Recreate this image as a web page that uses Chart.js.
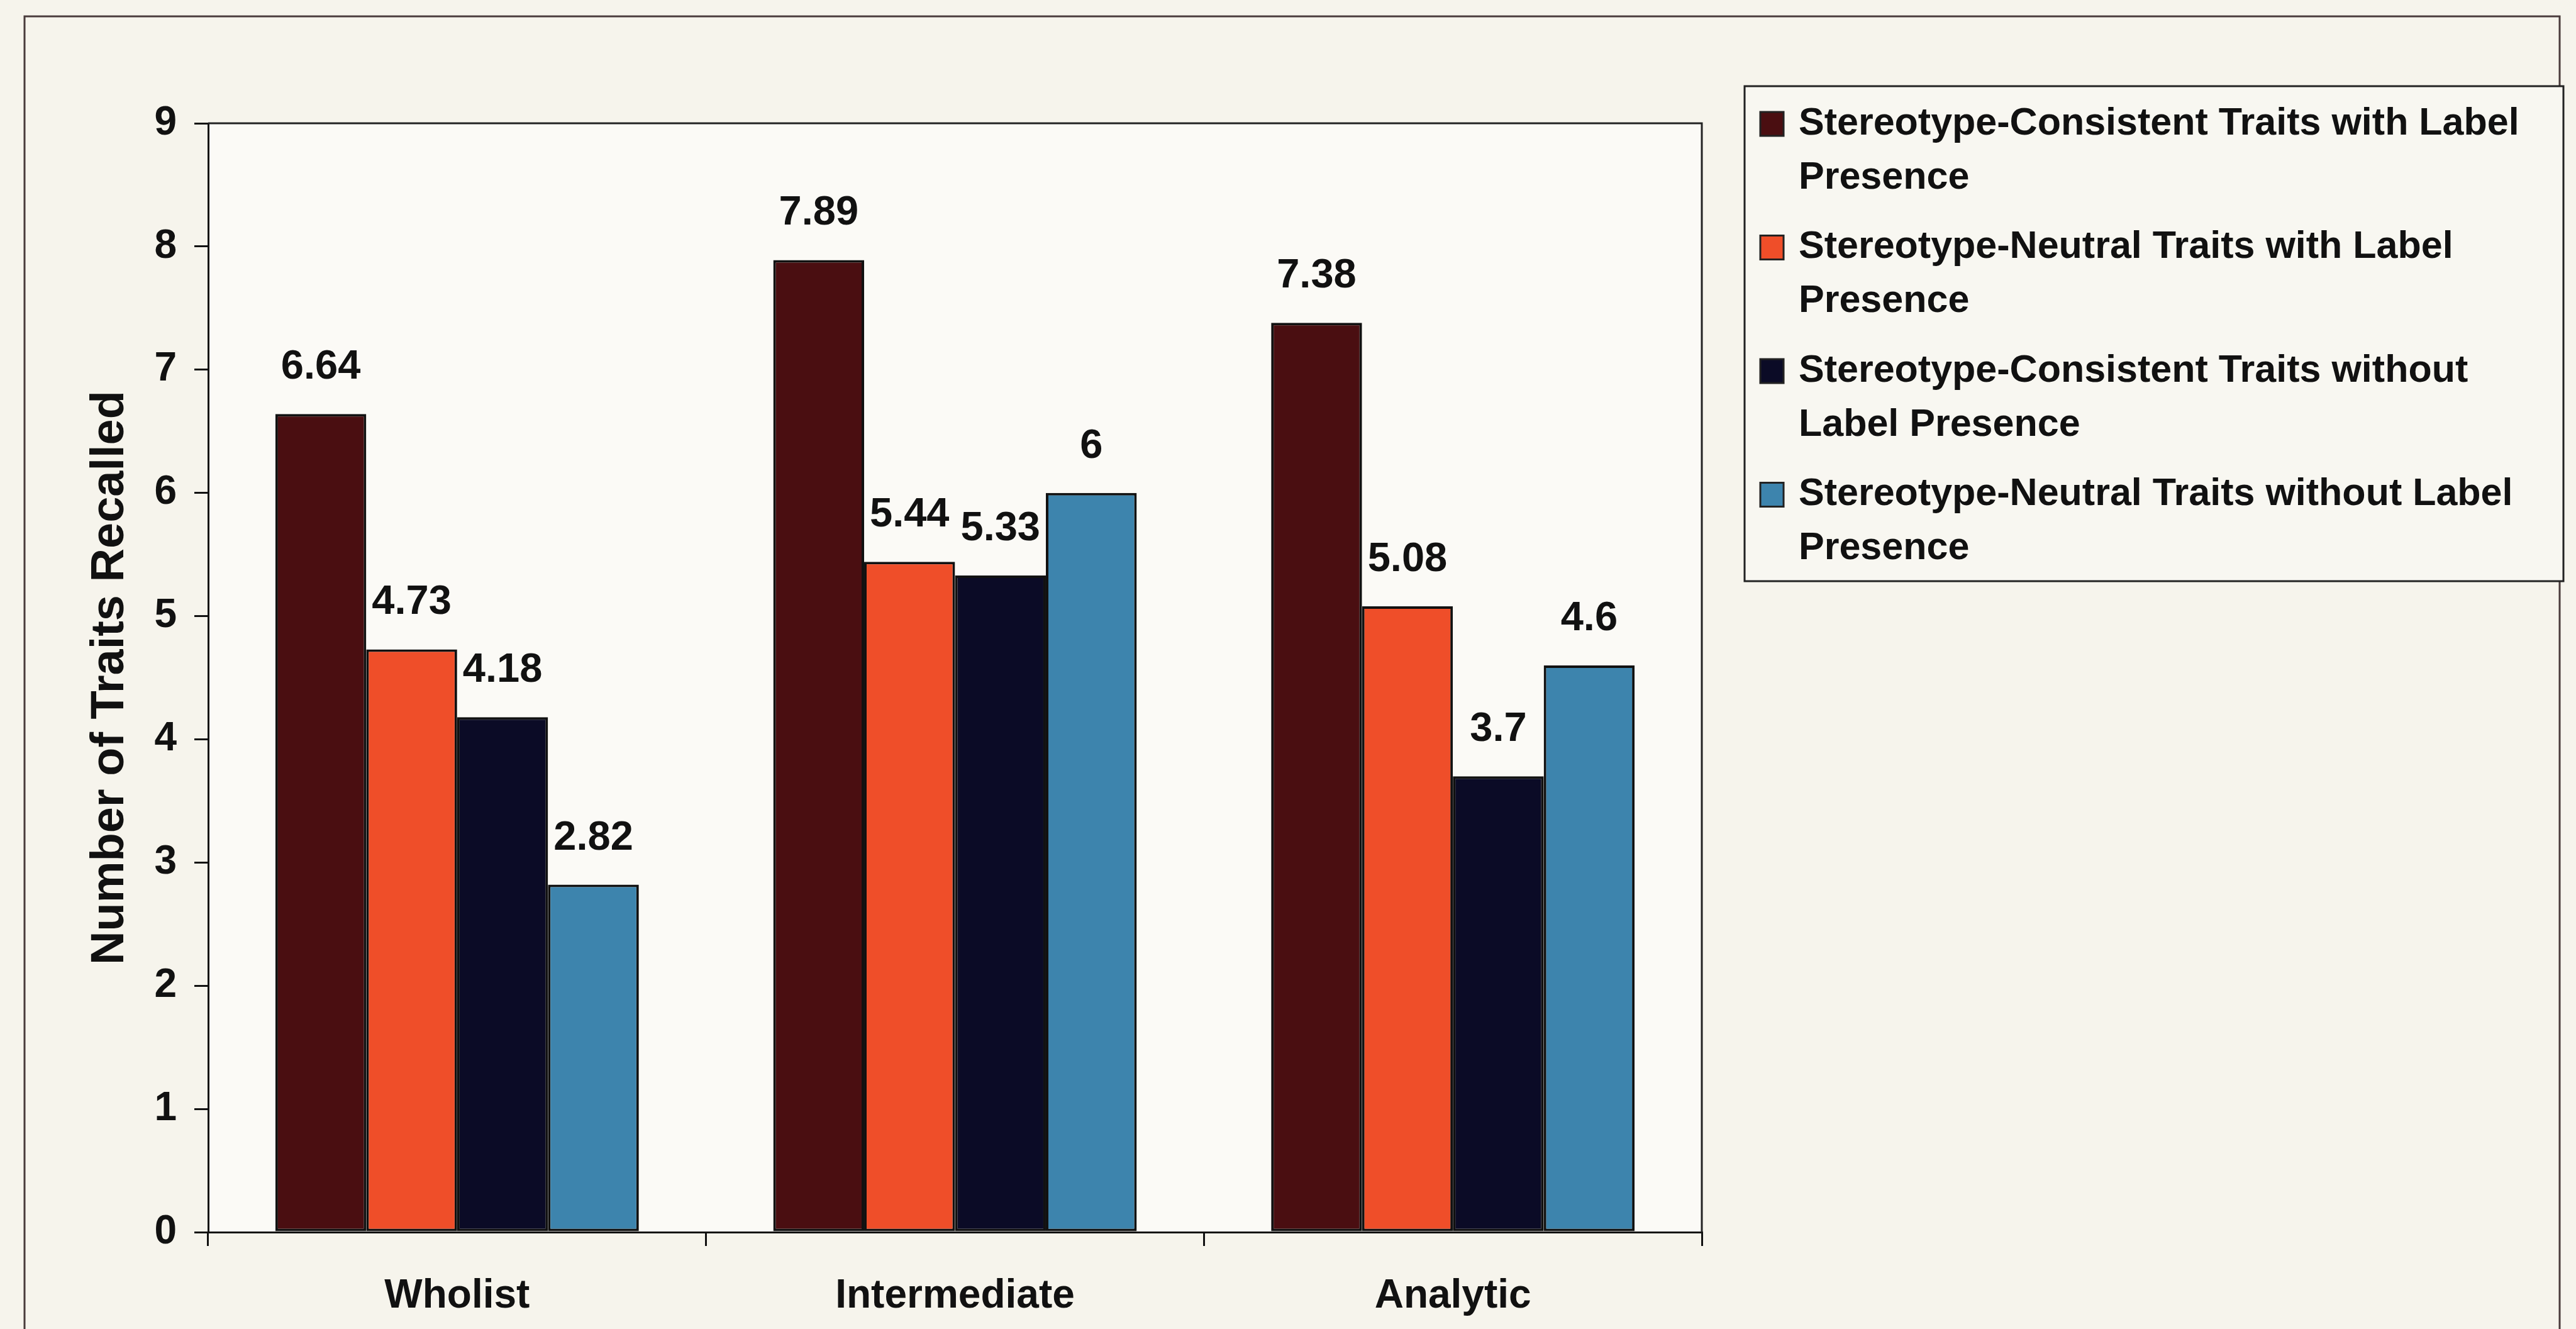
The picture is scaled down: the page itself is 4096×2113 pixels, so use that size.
<!DOCTYPE html>
<html>
<head>
<meta charset="utf-8">
<script src="https://cdn.jsdelivr.net/npm/chart.js@4.4.1/dist/chart.umd.min.js"></script>
<style>
  html, body { margin: 0; padding: 0; background: #f6f4ec; }
  canvas { display: block; }
</style>
</head>
<body>
<canvas id="chart" width="4096" height="2113"></canvas>
<script>
// ── Data ──────────────────────────────────────────────────────────────
const categories = ['Wholist', 'Intermediate', 'Analytic'];
const legendLines = [
  ['Stereotype-Consistent Traits with Label', 'Presence'],
  ['Stereotype-Neutral Traits with Label', 'Presence'],
  ['Stereotype-Consistent Traits without', 'Label Presence'],
  ['Stereotype-Neutral Traits without Label', 'Presence'],
];
const consistentWithLabel    = [6.64, 7.89, 7.38];
const neutralWithLabel       = [4.73, 5.44, 5.08];
const consistentWithoutLabel = [4.18, 5.33, 3.7];
const neutralWithoutLabel    = [2.82, 6, 4.6];
const seriesColors = ['#4a0e11', '#ef4e29', '#0b0b26', '#3d84ad'];
const yMin = 0, yMax = 9, yStep = 1;

const FONT = "'Liberation Sans', Arial, sans-serif";
const INK  = '#111111';

// ── Plugins ───────────────────────────────────────────────────────────
const paperPlugin = {
  id: 'paper',
  beforeDraw(chart) {
    const { ctx, chartArea: a } = chart;
    ctx.save();
    ctx.fillStyle = '#f6f4ec';
    ctx.fillRect(0, 0, chart.width, chart.height);
    // outer frame (bottom edge runs off the page)
    ctx.strokeStyle = '#4a3c3c';
    ctx.lineWidth = 3;
    ctx.beginPath();
    ctx.moveTo(39, chart.height + 10);
    ctx.lineTo(39, 26);
    ctx.lineTo(4070, 26);
    ctx.lineTo(4070, chart.height + 10);
    ctx.stroke();
    // plot area
    ctx.fillStyle = '#fbfaf6';
    ctx.fillRect(a.left, a.top, a.right - a.left, a.bottom - a.top);
    ctx.restore();
  },
  afterDraw(chart) {
    const { ctx, chartArea: a } = chart;
    ctx.save();
    ctx.strokeStyle = '#222';
    ctx.lineWidth = 3;
    ctx.beginPath();
    ctx.moveTo(a.left, a.top);
    ctx.lineTo(a.right, a.top);
    ctx.lineTo(a.right, a.bottom);
    ctx.stroke();
    ctx.restore();
  },
};

const valueLabels = {
  id: 'valueLabels',
  afterDatasetsDraw(chart) {
    const { ctx } = chart;
    ctx.save();
    ctx.font = `bold 65px ${FONT}`;
    ctx.fillStyle = INK;
    ctx.textAlign = 'center';
    ctx.textBaseline = 'middle';
    chart.data.datasets.forEach((ds, i) => {
      chart.getDatasetMeta(i).data.forEach((bar, j) => {
        ctx.fillText(String(ds.data[j]), bar.x, bar.y - 74);
      });
    });
    ctx.restore();
  },
};

const boxLegend = {
  id: 'boxLegend',
  afterDraw(chart) {
    const { ctx } = chart;
    const box = { left: 2774, top: 137, right: 4076, bottom: 924 };
    const firstRow = 197, rowGap = 196.5, lineH = 86;
    ctx.save();
    ctx.fillStyle = '#f8f7f1';
    ctx.fillRect(box.left, box.top, box.right - box.left, box.bottom - box.top);
    ctx.strokeStyle = '#222';
    ctx.lineWidth = 3;
    ctx.strokeRect(box.left, box.top, box.right - box.left, box.bottom - box.top);
    ctx.font = `bold 61px ${FONT}`;
    ctx.textBaseline = 'middle';
    ctx.textAlign = 'left';
    chart.data.datasets.forEach((ds, i) => {
      const y = firstRow + i * rowGap;
      ctx.fillStyle = ds.backgroundColor;
      ctx.fillRect(2799, y - 19, 37, 38);
      ctx.strokeStyle = '#222';
      ctx.lineWidth = 3;
      ctx.strokeRect(2799, y - 19, 37, 38);
      ctx.fillStyle = INK;
      legendLines[i].forEach((line, k) => ctx.fillText(line, 2860, y + k * lineH));
    });
    ctx.restore();
  },
};

// ── Chart ─────────────────────────────────────────────────────────────
const seriesData = [consistentWithLabel, neutralWithLabel, consistentWithoutLabel, neutralWithoutLabel];

new Chart(document.getElementById('chart').getContext('2d'), {
  type: 'bar',
  data: {
    labels: categories,
    datasets: seriesData.map((values, i) => ({
      label: legendLines[i].join(' '),
      data: values,
      backgroundColor: seriesColors[i],
      borderColor: '#111',
      borderWidth: 4,
      borderSkipped: false,
      categoryPercentage: 0.73,
      barPercentage: 1.0,
    })),
  },
  options: {
    responsive: false,
    animation: false,
    devicePixelRatio: 1,
    layout: { padding: { left: 0, top: 196, right: 1390, bottom: 0 } },
    plugins: {
      legend: { display: false },
      tooltip: { enabled: false },
    },
    scales: {
      x: {
        afterFit: s => { s.height = 154; },
        border: { display: true, color: INK, width: 3 },
        grid: { drawOnChartArea: false, drawTicks: true, tickLength: 22, color: INK, lineWidth: 3 },
        ticks: { color: INK, padding: 42, font: { family: FONT, size: 64, weight: 'bold' } },
      },
      y: {
        min: yMin,
        max: yMax,
        afterFit: s => { s.width = 331; },
        border: { display: true, color: INK, width: 3 },
        grid: { drawOnChartArea: false, drawTicks: true, tickLength: 22, color: INK, lineWidth: 3 },
        ticks: { stepSize: yStep, color: INK, padding: 28, font: { family: FONT, size: 64, weight: 'bold' } },
        title: {
          display: true,
          text: 'Number of Traits Recalled',
          color: INK,
          padding: { top: 131, bottom: 0 },
          font: { family: FONT, size: 74, weight: 'bold' },
        },
      },
    },
  },
  plugins: [paperPlugin, valueLabels, boxLegend],
});
</script>
</body>
</html>
